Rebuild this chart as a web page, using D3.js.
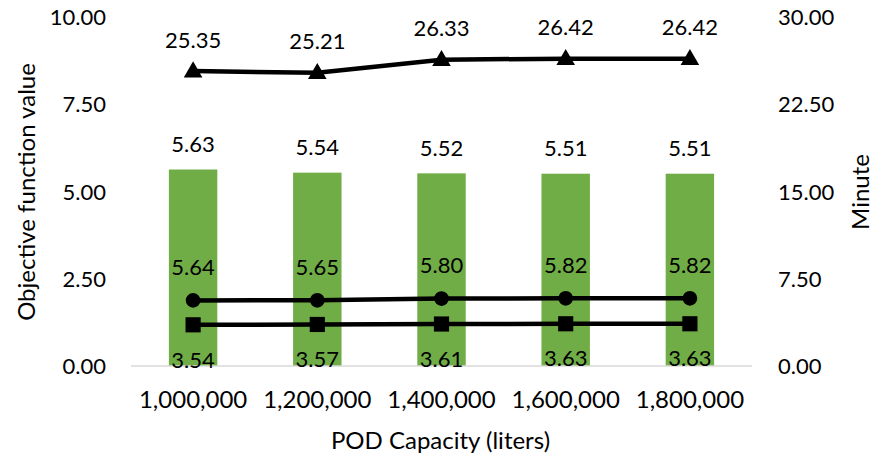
<!DOCTYPE html>
<html>
<head>
<meta charset="utf-8">
<script src="https://cdn.jsdelivr.net/npm/d3@7/dist/d3.min.js"></script>
<style>
  html, body { margin: 0; padding: 0; background: #fff; }
  svg text { font-family: Lato, "Open Sans", sans-serif; fill: #000; }
</style>
</head>
<body>
<svg id="chart" width="875" height="457"></svg>
<script>
// POD capacities (liters) on the category axis
const capacities = ["1,000,000", "1,200,000", "1,400,000", "1,600,000", "1,800,000"];
// Objective function value (bars, left axis)
const objective = [5.63, 5.54, 5.52, 5.51, 5.51];
// Run times in minutes (lines, right axis)
const minutesTriangle = [25.35, 25.21, 26.33, 26.42, 26.42];
const minutesCircle = [5.64, 5.65, 5.80, 5.82, 5.82];
const minutesSquare = [3.54, 3.57, 3.61, 3.63, 3.63];
// Axis ticks
const leftTicks = [0, 2.5, 5, 7.5, 10];
const rightTicks = [0, 7.5, 15, 22.5, 30];

const svg = d3.select("#chart");
const plot = { left: 131, right: 752, top: 17, bottom: 366 };
const numSize = 22;
const textSize = 24;

const x = d3.scaleBand().domain(capacities).range([plot.left, plot.right]).paddingInner(0.61).paddingOuter(0.305);
const yL = d3.scaleLinear().domain([0, 10]).range([plot.bottom, plot.top]);
const yR = d3.scaleLinear().domain([0, 30]).range([plot.bottom, plot.top]);
const cx = d => x(d) + x.bandwidth() / 2;

// Bars
svg.append("g").selectAll("rect").data(objective).join("rect")
  .attr("x", (d, i) => x(capacities[i]))
  .attr("width", x.bandwidth())
  .attr("y", d => yL(d))
  .attr("height", d => yL(0) - yL(d))
  .attr("fill", "#70AD47");

// Baseline
svg.append("line")
  .attr("x1", plot.left).attr("x2", plot.right)
  .attr("y1", yL(0)).attr("y2", yL(0))
  .attr("stroke", "#D9D9D9").attr("stroke-width", 1.5);

// Left axis
const axL = d3.axisLeft(yL).tickValues(leftTicks).tickFormat(d3.format(".2f")).tickSize(0).tickPadding(0);
svg.append("g").attr("transform", "translate(106,0)").call(axL)
  .call(g => g.select(".domain").remove())
  .selectAll("text").style("font-size", numSize + "px").attr("dy", "0.35em");

// Right axis
const axR = d3.axisRight(yR).tickValues(rightTicks).tickFormat(d3.format(".2f")).tickSize(0).tickPadding(0);
svg.append("g").attr("transform", "translate(778,0)").call(axR)
  .call(g => g.select(".domain").remove())
  .selectAll("text").style("font-size", numSize + "px").attr("dy", "0.35em");

// Category axis
const axB = d3.axisBottom(x).tickSize(0).tickPadding(0);
svg.append("g").attr("transform", "translate(0,400)").call(axB)
  .call(g => g.select(".domain").remove())
  .selectAll("text").style("font-size", textSize + "px").attr("dy", "0.35em");

// Axis titles
svg.append("text").attr("transform", "translate(27,192) rotate(-90)")
  .attr("text-anchor", "middle").attr("dy", "0.35em").style("font-size", textSize + "px")
  .text("Objective function value");
svg.append("text").attr("transform", "translate(861,192) rotate(-90)")
  .attr("text-anchor", "middle").attr("dy", "0.35em").style("font-size", textSize + "px")
  .text("Minute");
svg.append("text").attr("x", (plot.left + plot.right) / 2 - 1).attr("y", 441)
  .attr("text-anchor", "middle").attr("dy", "0.35em").style("font-size", textSize + "px")
  .text("POD Capacity (liters)");

// Lines with markers
const line = d3.line().x((d, i) => cx(capacities[i])).y(d => yR(d));
const series = [
  { values: minutesTriangle, symbol: d3.symbolTriangle, size: 150, labelDy: -31 },
  { values: minutesCircle, symbol: d3.symbolCircle, size: 170, labelDy: -33 },
  { values: minutesSquare, symbol: d3.symbolSquare, size: 230, labelDy: 35 }
];
series.forEach(s => {
  svg.append("path").datum(s.values).attr("d", line)
    .attr("fill", "none").attr("stroke", "#000").attr("stroke-width", 4.5);
  svg.append("g").selectAll("path").data(s.values).join("path")
    .attr("transform", (d, i) => `translate(${cx(capacities[i])},${yR(d) + (s.symbol === d3.symbolTriangle ? 1 : 0)})`)
    .attr("d", d3.symbol().type(s.symbol).size(s.size))
    .attr("fill", "#000");
  svg.append("g").selectAll("text").data(s.values).join("text")
    .attr("x", (d, i) => cx(capacities[i]))
    .attr("y", d => yR(d) + s.labelDy)
    .attr("text-anchor", "middle").attr("dy", "0.35em").style("font-size", numSize + "px")
    .text(d => d.toFixed(2));
});

// Bar value labels
svg.append("g").selectAll("text").data(objective).join("text")
  .attr("x", (d, i) => cx(capacities[i]))
  .attr("y", d => yL(d) - 25)
  .attr("text-anchor", "middle").attr("dy", "0.35em").style("font-size", numSize + "px")
  .text(d => d.toFixed(2));
</script>
</body>
</html>
